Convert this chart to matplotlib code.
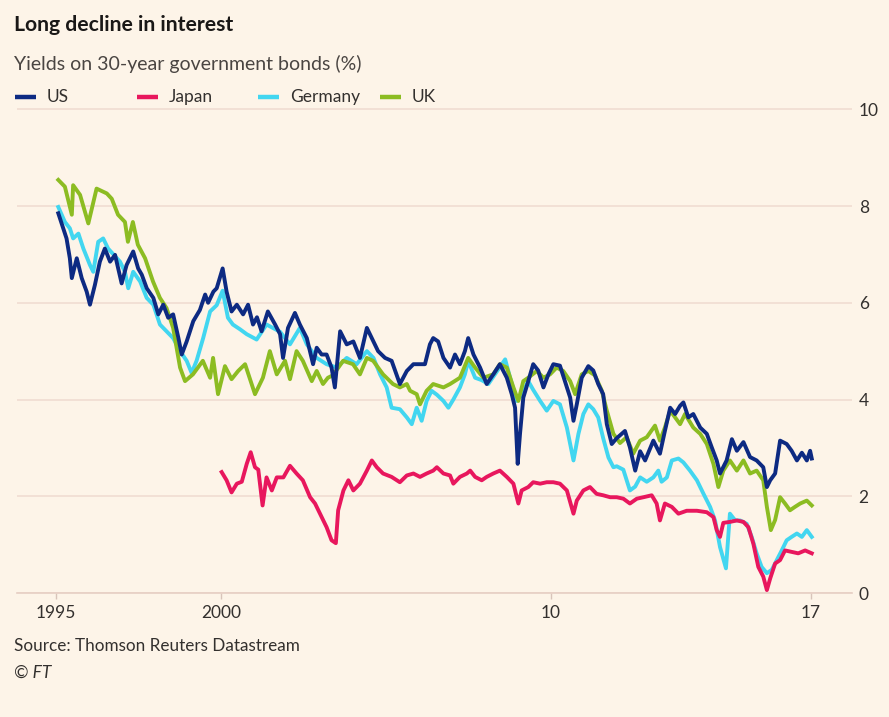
# Long decline in interest - 30-year government bond yields
import matplotlib.pyplot as plt
from matplotlib.lines import Line2D

# data (decimal year, yield %)
us_year = [1995.07, 1995.22, 1995.32, 1995.42, 1995.48, 1995.63, 1995.78, 1995.93, 1996.03, 1996.18,
           1996.33, 1996.48, 1996.64, 1996.79, 1996.99, 1997.14, 1997.34, 1997.49, 1997.60, 1997.75,
           1997.95, 1998.10, 1998.25, 1998.40, 1998.55, 1998.71, 1998.81, 1998.96, 1999.16, 1999.36,
           1999.52, 1999.61, 1999.77, 1999.87, 2000.05, 2000.17, 2000.32, 2000.48, 2000.67, 2000.82,
           2000.97, 2001.09, 2001.23, 2001.42, 2001.64, 2001.79, 2001.88, 2002.03, 2002.24, 2002.39,
           2002.60, 2002.79, 2002.90, 2003.05, 2003.20, 2003.35, 2003.45, 2003.61, 2003.81, 2004.01,
           2004.21, 2004.42, 2004.57, 2004.76, 2004.97, 2005.17, 2005.42, 2005.63, 2005.83, 2006.18,
           2006.33, 2006.43, 2006.58, 2006.74, 2006.94, 2007.09, 2007.24, 2007.39, 2007.49, 2007.65,
           2007.85, 2008.05, 2008.25, 2008.45, 2008.66, 2008.81, 2008.91, 2008.99, 2009.06, 2009.16,
           2009.31, 2009.46, 2009.61, 2009.77, 2009.92, 2010.07, 2010.27, 2010.42, 2010.58, 2010.68,
           2010.78, 2010.93, 2011.13, 2011.28, 2011.43, 2011.58, 2011.69, 2011.84, 2011.99, 2012.24,
           2012.39, 2012.55, 2012.70, 2012.85, 2013.10, 2013.30, 2013.45, 2013.61, 2013.76, 2013.91,
           2014.01, 2014.16, 2014.31, 2014.52, 2014.72, 2014.87, 2015.02, 2015.12, 2015.32, 2015.48,
           2015.63, 2015.83, 2016.03, 2016.23, 2016.43, 2016.54, 2016.64, 2016.79, 2016.94, 2017.14,
           2017.29, 2017.45, 2017.60, 2017.75, 2017.85, 2017.90]
us_val = [7.85, 7.54, 7.33, 6.92, 6.51, 6.92, 6.51, 6.23, 5.96, 6.37,
          6.85, 7.12, 6.85, 6.99, 6.40, 6.78, 7.06, 6.71, 6.58, 6.30,
          6.10, 5.76, 5.96, 5.69, 5.76, 5.27, 4.93, 5.20, 5.62, 5.85,
          6.17, 6.00, 6.23, 6.30, 6.71, 6.23, 5.82, 5.96, 5.76, 5.96,
          5.55, 5.70, 5.41, 5.82, 5.55, 5.35, 4.86, 5.48, 5.79, 5.55,
          5.27, 4.73, 5.07, 4.93, 4.93, 4.66, 4.25, 5.41, 5.14, 5.20,
          4.86, 5.48, 5.27, 5.00, 4.86, 4.80, 4.32, 4.59, 4.73, 4.73,
          5.14, 5.27, 5.20, 4.86, 4.66, 4.93, 4.73, 5.00, 5.27, 4.93,
          4.66, 4.32, 4.52, 4.73, 4.45, 4.11, 3.83, 2.67, 3.29, 4.04,
          4.38, 4.73, 4.60, 4.25, 4.52, 4.73, 4.70, 4.38, 4.04, 3.56,
          3.90, 4.45, 4.69, 4.60, 4.32, 4.11, 3.49, 3.08, 3.20, 3.35,
          3.01, 2.53, 2.93, 2.74, 3.15, 2.88, 3.35, 3.83, 3.70, 3.87,
          3.94, 3.63, 3.70, 3.42, 3.29, 3.01, 2.74, 2.47, 2.74, 3.18,
          2.94, 3.12, 2.81, 2.74, 2.60, 2.19, 2.33, 2.47, 3.15, 3.08,
          2.94, 2.74, 2.90, 2.74, 2.94, 2.78]

japan_year = [2000.02, 2000.17, 2000.32, 2000.48, 2000.63, 2000.78, 2000.90, 2001.03, 2001.13, 2001.26,
              2001.38, 2001.54, 2001.69, 2001.89, 2002.09, 2002.29, 2002.48, 2002.70, 2002.85, 2003.00,
              2003.20, 2003.35, 2003.48, 2003.55, 2003.71, 2003.86, 2004.01, 2004.21, 2004.42, 2004.57,
              2004.72, 2004.91, 2005.17, 2005.42, 2005.63, 2005.83, 2006.03, 2006.23, 2006.43, 2006.54,
              2006.74, 2006.94, 2007.04, 2007.24, 2007.45, 2007.55, 2007.70, 2007.90, 2008.05, 2008.25,
              2008.45, 2008.66, 2008.86, 2009.01, 2009.11, 2009.31, 2009.46, 2009.67, 2009.87, 2010.07,
              2010.27, 2010.48, 2010.68, 2010.78, 2010.98, 2011.18, 2011.38, 2011.58, 2011.79, 2011.99,
              2012.19, 2012.39, 2012.60, 2012.80, 2013.05, 2013.20, 2013.30, 2013.45, 2013.66, 2013.86,
              2014.11, 2014.42, 2014.72, 2014.92, 2015.02, 2015.12, 2015.22, 2015.42, 2015.63, 2015.83,
              2015.98, 2016.13, 2016.28, 2016.43, 2016.54, 2016.64, 2016.79, 2016.94, 2017.09, 2017.29,
              2017.49, 2017.70, 2017.90]
japan_val = [2.50, 2.33, 2.08, 2.26, 2.30, 2.67, 2.91, 2.60, 2.55, 1.81,
             2.39, 2.12, 2.39, 2.39, 2.63, 2.47, 2.33, 1.98, 1.85, 1.64,
             1.36, 1.09, 1.03, 1.71, 2.12, 2.33, 2.12, 2.26, 2.53, 2.74,
             2.60, 2.47, 2.40, 2.29, 2.43, 2.47, 2.40, 2.47, 2.53, 2.60,
             2.47, 2.43, 2.26, 2.40, 2.47, 2.53, 2.40, 2.33, 2.40, 2.47,
             2.53, 2.40, 2.26, 1.85, 2.12, 2.19, 2.29, 2.26, 2.29, 2.29,
             2.26, 2.12, 1.64, 1.91, 2.12, 2.19, 2.05, 2.02, 1.98, 1.98,
             1.95, 1.85, 1.95, 1.98, 2.02, 1.85, 1.50, 1.85, 1.78, 1.64,
             1.70, 1.70, 1.67, 1.57, 1.30, 1.16, 1.45, 1.47, 1.50, 1.47,
             1.36, 1.02, 0.54, 0.34, 0.06, 0.30, 0.61, 0.68, 0.88, 0.85,
             0.82, 0.88, 0.82]

germany_year = [1995.07, 1995.27, 1995.42, 1995.52, 1995.68, 1995.83, 1996.03, 1996.13, 1996.28, 1996.43,
                1996.58, 1996.74, 1996.94, 1997.09, 1997.19, 1997.34, 1997.55, 1997.75, 1997.95, 1998.15,
                1998.35, 1998.55, 1998.76, 1998.96, 1999.11, 1999.26, 1999.46, 1999.67, 1999.87, 2000.05,
                2000.21, 2000.36, 2000.58, 2000.78, 2001.08, 2001.38, 2001.79, 2002.09, 2002.39, 2002.60,
                2002.90, 2003.20, 2003.51, 2003.81, 2004.11, 2004.42, 2004.62, 2004.82, 2005.02, 2005.17,
                2005.42, 2005.63, 2005.78, 2005.93, 2006.08, 2006.23, 2006.38, 2006.54, 2006.74, 2006.89,
                2007.04, 2007.24, 2007.39, 2007.49, 2007.70, 2007.90, 2008.10, 2008.30, 2008.51, 2008.61,
                2008.76, 2008.96, 2009.11, 2009.31, 2009.46, 2009.67, 2009.87, 2010.07, 2010.27, 2010.48,
                2010.68, 2010.83, 2010.98, 2011.13, 2011.28, 2011.43, 2011.58, 2011.74, 2011.89, 2011.99,
                2012.19, 2012.39, 2012.55, 2012.70, 2012.90, 2013.10, 2013.25, 2013.35, 2013.51, 2013.66,
                2013.86, 2014.01, 2014.21, 2014.42, 2014.62, 2014.82, 2014.97, 2015.12, 2015.30, 2015.42,
                2015.58, 2015.73, 2015.93, 2016.08, 2016.23, 2016.38, 2016.54, 2016.69, 2016.84, 2016.99,
                2017.14, 2017.29, 2017.45, 2017.60, 2017.75, 2017.90]
germany_val = [7.98, 7.67, 7.54, 7.33, 7.43, 7.12, 6.78, 6.64, 7.26, 7.33,
               7.12, 7.00, 6.85, 6.64, 6.30, 6.64, 6.44, 6.10, 5.96, 5.55,
               5.41, 5.27, 5.00, 4.80, 4.55, 4.80, 5.27, 5.82, 5.95, 6.25,
               5.69, 5.55, 5.45, 5.35, 5.24, 5.55, 5.40, 5.14, 5.48, 5.14,
               4.86, 4.73, 4.66, 4.86, 4.73, 5.00, 4.86, 4.52, 4.25, 3.83,
               3.80, 3.63, 3.49, 3.83, 3.56, 3.97, 4.18, 4.10, 3.97, 3.83,
               4.00, 4.25, 4.52, 4.80, 4.45, 4.40, 4.32, 4.52, 4.73, 4.83,
               4.45, 3.97, 4.10, 4.38, 4.20, 3.97, 3.77, 3.97, 3.90, 3.42,
               2.74, 3.29, 3.70, 3.90, 3.80, 3.63, 3.20, 2.80, 2.60, 2.62,
               2.55, 2.12, 2.20, 2.39, 2.30, 2.39, 2.53, 2.30, 2.39, 2.74,
               2.78, 2.70, 2.53, 2.33, 2.05, 1.78, 1.50, 0.95, 0.51, 1.64,
               1.50, 1.50, 1.43, 1.16, 0.82, 0.54, 0.41, 0.48, 0.68, 0.88,
               1.09, 1.16, 1.23, 1.16, 1.30, 1.16]

uk_year = [1995.07, 1995.27, 1995.48, 1995.52, 1995.73, 1995.98, 1996.23, 1996.54, 1996.69, 1996.88,
           1997.09, 1997.18, 1997.33, 1997.48, 1997.70, 1997.94, 1998.15, 1998.35, 1998.55, 1998.76,
           1998.91, 1999.15, 1999.45, 1999.67, 1999.76, 1999.91, 2000.12, 2000.32, 2000.52, 2000.73,
           2001.03, 2001.27, 2001.48, 2001.69, 2001.94, 2002.09, 2002.29, 2002.48, 2002.75, 2002.90,
           2003.09, 2003.24, 2003.39, 2003.70, 2004.00, 2004.21, 2004.42, 2004.61, 2004.91, 2005.21,
           2005.42, 2005.63, 2005.73, 2005.93, 2006.03, 2006.23, 2006.43, 2006.74, 2006.94, 2007.24,
           2007.49, 2007.70, 2007.95, 2008.25, 2008.45, 2008.66, 2008.86, 2009.01, 2009.16, 2009.31,
           2009.57, 2009.77, 2009.97, 2010.17, 2010.37, 2010.58, 2010.73, 2010.93, 2011.13, 2011.33,
           2011.54, 2011.69, 2011.89, 2012.09, 2012.29, 2012.49, 2012.70, 2012.90, 2013.15, 2013.30,
           2013.45, 2013.61, 2013.91, 2014.06, 2014.31, 2014.52, 2014.72, 2014.92, 2015.07, 2015.22,
           2015.42, 2015.63, 2015.83, 2016.03, 2016.23, 2016.43, 2016.54, 2016.66, 2016.79, 2016.94,
           2017.09, 2017.24, 2017.39, 2017.55, 2017.75, 2017.90]
uk_val = [8.54, 8.40, 7.82, 8.43, 8.23, 7.64, 8.36, 8.26, 8.15, 7.82,
          7.67, 7.26, 7.67, 7.20, 6.92, 6.44, 6.10, 5.89, 5.48, 4.66,
          4.38, 4.52, 4.80, 4.45, 4.86, 4.11, 4.69, 4.42, 4.59, 4.73,
          4.11, 4.45, 5.00, 4.52, 4.80, 4.42, 5.00, 4.80, 4.38, 4.59,
          4.32, 4.45, 4.50, 4.80, 4.73, 4.52, 4.86, 4.80, 4.52, 4.32,
          4.25, 4.32, 4.18, 4.11, 3.90, 4.18, 4.32, 4.25, 4.32, 4.45,
          4.86, 4.66, 4.45, 4.52, 4.73, 4.66, 4.25, 3.97, 4.38, 4.45,
          4.59, 4.45, 4.52, 4.66, 4.59, 4.38, 4.11, 4.52, 4.59, 4.50,
          4.18, 3.77, 3.29, 3.10, 3.22, 2.88, 3.15, 3.22, 3.46, 3.15,
          3.42, 3.77, 3.49, 3.70, 3.42, 3.29, 3.08, 2.67, 2.19, 2.53,
          2.74, 2.53, 2.74, 2.47, 2.53, 2.33, 1.78, 1.30, 1.51, 1.98,
          1.85, 1.71, 1.78, 1.85, 1.91, 1.81]

series_names = ['US', 'Japan', 'Germany', 'UK']
x_ticks = [1995, 2000, 2010, 2017.88]
x_labels = ['1995', '2000', '10', '17']
y_ticks = [0, 2, 4, 6, 8, 10]

bg = '#fdf4e8'
grid_col = '#f0dcd2'
text_col = '#33302e'
colors = {'US': '#0d2a82', 'Japan': '#e8175d', 'Germany': '#42d6f0', 'UK': '#8cbc22'}

plt.rcParams['font.family'] = ['Lato', 'DejaVu Sans']

fig = plt.figure(figsize=(8.89, 7.17), dpi=100, facecolor=bg)
ax = fig.add_axes([16.7 / 889, 124 / 717, 835 / 889, 493.4 / 717])
ax.set_facecolor(bg)

lw = 2.8
ax.plot(germany_year, germany_val, color=colors['Germany'], lw=lw, zorder=3)
ax.plot(uk_year, uk_val, color=colors['UK'], lw=lw, zorder=4)
ax.plot(us_year, us_val, color=colors['US'], lw=lw, zorder=5)
ax.plot(japan_year, japan_val, color=colors['Japan'], lw=lw, zorder=6)

ax.set_xlim(1993.81, 2019.11)
ax.set_ylim(0, 10.2)

ax.set_yticks(y_ticks)
ax.set_yticklabels([str(t) for t in y_ticks])
ax.yaxis.tick_right()
ax.yaxis.grid(True, color=grid_col, lw=1.2)
ax.set_axisbelow(True)
ax.tick_params(axis='y', length=0, pad=5, labelsize=12.5, labelcolor=text_col)

ax.set_xticks(x_ticks)
ax.set_xticklabels(x_labels)
ax.tick_params(axis='x', length=4, width=1, color='#d8c4ba', pad=5,
               labelsize=12.5, labelcolor=text_col)

for s in ['top', 'left', 'right']:
    ax.spines[s].set_visible(False)
ax.spines['bottom'].set_color('#e6cec3')
ax.spines['bottom'].set_linewidth(1.2)

# titles
fig.text(14 / 889, 1 - 31 / 717, 'Long decline in interest', fontsize=15.2, fontweight='bold',
         color='#1a1817', va='baseline')
fig.text(14 / 889, 1 - 70 / 717, 'Yields on 30-year government bonds (%)', fontsize=14,
         color='#4a4542', va='baseline')

# legend
leg_x = [15, 137, 258, 380]
for name, lx in zip(series_names, leg_x):
    fig.add_artist(Line2D([lx / 889, (lx + 21) / 889], [1 - 97 / 717] * 2,
                          color=colors[name], lw=3.2, solid_capstyle='butt'))
    fig.text((lx + 32) / 889, 1 - 97 / 717, name, fontsize=12.5, color=text_col, va='center')

# source
fig.text(14 / 889, 1 - 651 / 717, 'Source: Thomson Reuters Datastream', fontsize=12.3,
         color=text_col, va='baseline')
fig.text(14 / 889, 1 - 678 / 717, '© FT', fontsize=12.5, style='italic',
         color=text_col, va='baseline')

fig.savefig('out.png', dpi=100, facecolor=bg)
